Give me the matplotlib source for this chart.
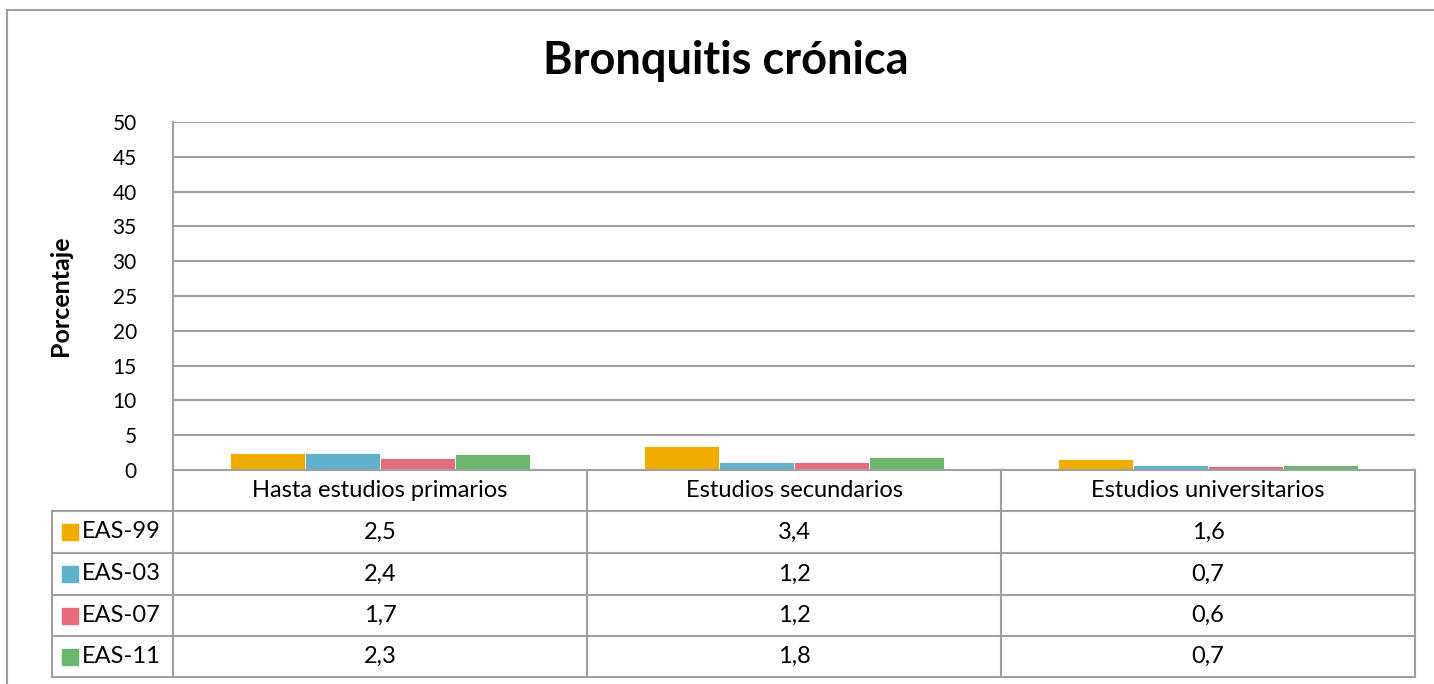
import matplotlib.pyplot as plt
from matplotlib.patches import Rectangle
from matplotlib.lines import Line2D
import numpy as np

categories = ["Hasta estudios primarios", "Estudios secundarios", "Estudios universitarios"]
series = ["EAS-99", "EAS-03", "EAS-07", "EAS-11"]
eas99 = [2.5, 3.4, 1.6]
eas03 = [2.4, 1.2, 0.7]
eas07 = [1.7, 1.2, 0.6]
eas11 = [2.3, 1.8, 0.7]
yticks = [0, 5, 10, 15, 20, 25, 30, 35, 40, 45, 50]

values = [eas99, eas03, eas07, eas11]
colors = ["#F0AD00", "#5EB2CB", "#E66B7D", "#6CB76E"]
grid_c = "#A0A0A0"

plt.rcParams["font.family"] = ["Lato", "DejaVu Sans"]

W, H = 1434, 684
fig = plt.figure(figsize=(W / 100, H / 100), dpi=100)


def fx(px):
    return px / W


def fy(py):
    return 1 - py / H


# outer chart frame: only top and left edges fall inside the picture
fig.lines.append(Line2D([fx(7), 1.0], [fy(10), fy(10)], transform=fig.transFigure,
                        color=grid_c, lw=1.5))
fig.lines.append(Line2D([fx(7), fx(7)], [fy(10), 0.0], transform=fig.transFigure,
                        color=grid_c, lw=1.5))

# plot area
L, R, T, B = 173, 1415, 122, 470
ax = fig.add_axes([fx(L), fy(B), fx(R) - fx(L), fy(T) - fy(B)])
x = np.arange(len(categories))
bw = 0.725 / 4
for i, vals in enumerate(values):
    ax.bar(x - 0.3625 + bw * (i + 0.5), vals, width=bw, color=colors[i],
           edgecolor="white", linewidth=0.6, zorder=3)
ax.set_xlim(-0.5, len(categories) - 0.5)
ax.set_ylim(0, 50)
ax.set_yticks(yticks)
ax.set_yticklabels([str(t) for t in yticks], fontsize=15)
ax.tick_params(axis="y", length=0, pad=26)
ax.set_xticks([])
ax.yaxis.grid(True, color=grid_c, lw=1.5, zorder=0)
for s in ["top", "right", "bottom"]:
    ax.spines[s].set_visible(False)
ax.spines["left"].set_color(grid_c)
ax.spines["left"].set_linewidth(1.5)

fig.text(fx(726), fy(74), "Bronquitis crónica", ha="center", va="baseline",
         fontsize=32.5, fontweight="bold")
fig.text(fx(61), fy(296), "Porcentaje", ha="center", va="center",
         rotation=90, fontsize=18, fontweight="bold")

# data table under the chart
tab = fig.add_axes([0, 0, 1, 1], facecolor="none")
tab.set_xlim(0, W)
tab.set_ylim(H, 0)
tab.axis("off")
col_edges = [L + (R - L) * k / len(categories) for k in range(len(categories) + 1)]
row_edges = [B, 511, 553, 595, 636, 677]
lab_left = 52

for cx in col_edges:
    tab.plot([cx, cx], [row_edges[0], row_edges[-1]], color=grid_c, lw=1.5)
tab.plot([lab_left, lab_left], [row_edges[1], row_edges[-1]], color=grid_c, lw=1.5)
tab.plot([L, R], [row_edges[0]] * 2, color=grid_c, lw=1.5)
for ry in row_edges[1:]:
    tab.plot([lab_left, R], [ry, ry], color=grid_c, lw=1.5)

for j, cat in enumerate(categories):
    cx = (col_edges[j] + col_edges[j + 1]) / 2
    tab.text(cx, (row_edges[0] + row_edges[1]) / 2, cat, ha="center", va="center",
             fontsize=17)
for i, name in enumerate(series):
    cy = (row_edges[i + 1] + row_edges[i + 2]) / 2
    tab.add_patch(Rectangle((62, cy - 8), 16, 16, color=colors[i]))
    tab.text(82, cy, name, ha="left", va="center", fontsize=17)
    for j, v in enumerate(values[i]):
        cx = (col_edges[j] + col_edges[j + 1]) / 2
        tab.text(cx, cy, f"{v:.1f}".replace(".", ","), ha="center", va="center",
                 fontsize=17)

fig.savefig("out.png", dpi=100, facecolor="white")
